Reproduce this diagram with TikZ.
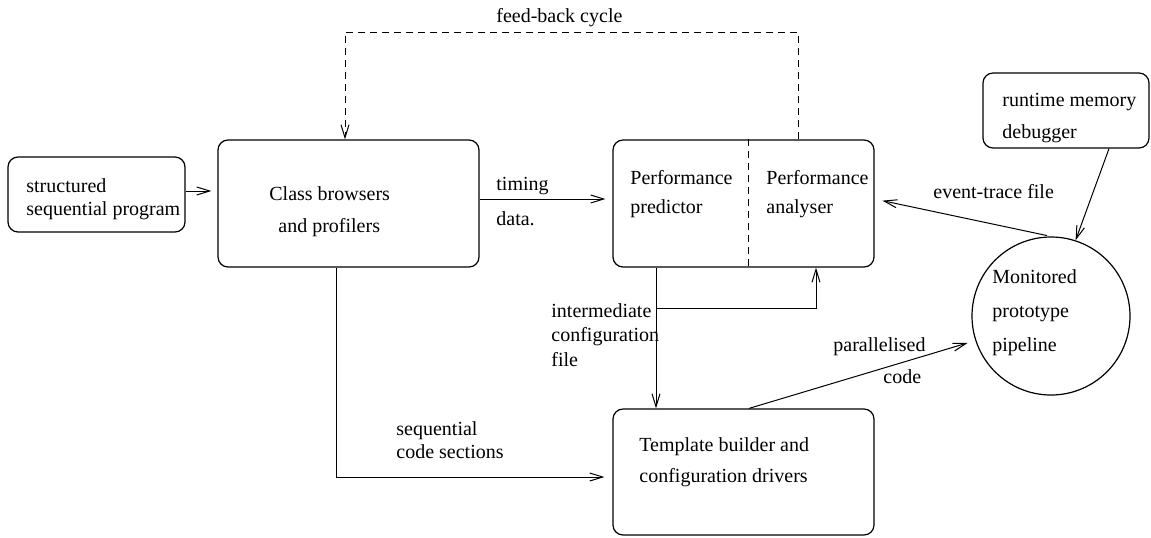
\documentclass[tikz,border=0pt]{standalone}
\usepackage{fontspec}
\setmainfont{Liberation Serif}
\usetikzlibrary{arrows.meta,calc}
\begin{document}
\begin{tikzpicture}[x=0.5pt,y=-0.5pt,
  every node/.style={font=\fontsize{10}{12}\selectfont},
  box/.style={draw, rounded corners=5pt, line width=0.6pt, inner sep=0pt},
  lbl/.style={anchor=base west, inner sep=0pt},
  conn/.style={line width=0.5pt, -{Straight Barb[length=6.5pt,width=4pt]}},
  link/.style={line width=0.5pt},
  fb/.style={line width=0.5pt, dash pattern=on 3.5pt off 2.5pt}]
\useasboundingbox (0,0) rectangle (1151,537);

% boxes
\node[box, minimum width=88.5pt, minimum height=37.5pt] (str) at (96.5,194.5) {};
\node[box, minimum width=130.5pt, minimum height=63.5pt] (cls) at (348.5,203.5) {};
\node[box, minimum width=130.5pt, minimum height=63.5pt] (perf) at (743.5,203.5) {};
\node[box, minimum width=130.5pt, minimum height=63pt] (tmpl) at (743.5,472) {};
\node[box, minimum width=83pt, minimum height=37.5pt] (rt) at (1066,110.5) {};
\node[draw, circle, minimum size=79pt, inner sep=0pt, line width=0.6pt] (mon) at (1051,316) {};

% box texts
\node[lbl] (t1) at (26,192) {structured};
\node[lbl] (t2) at (26,215) {sequential program};
\node[lbl] (t3) at (269,200) {Class browsers};
\node[lbl] (t4) at (278,232) {and profilers};
\node[lbl] (t5) at (630,184) {Performance};
\node[lbl] (t6) at (630,213) {predictor};
\node[lbl] (t7) at (766,184) {Performance};
\node[lbl] (t8) at (766,213) {analyser};
\node[lbl] (t9) at (639,451) {Template builder and};
\node[lbl] (t10) at (639,482) {configuration drivers};
\node[lbl] (t11) at (1002,106) {runtime memory};
\node[lbl] (t12) at (1002,138) {debugger};
\node[lbl] (t13) at (992,283) {Monitored};
\node[lbl] (t14) at (992,317) {prototype};
\node[lbl] (t15) at (992,351) {pipeline};

% connector labels
\node[lbl] (l1) at (496,22) {feed-back cycle};
\node[lbl] (l2) at (496,190) {timing};
\node[lbl] (l3) at (496,225) {data.};
\node[lbl] (l4) at (933,198) {event-trace file};
\node[lbl] (l5) at (551,317) {intermediate};
\node[lbl] (l6) at (551,341) {configuration};
\node[lbl] (l7) at (551,366) {file};
\node[lbl] (l8) at (396,435) {sequential};
\node[lbl] (l9) at (396,458) {code sections};
\node[lbl] (l10) at (833,351) {parallelised};
\node[lbl] (l11) at (883,383) {code};

% separator inside the performance box
\draw[fb] ([xshift=2.25pt]perf.north) -- ([xshift=2.25pt]perf.south);

% connectors
\draw[conn, shorten >=3pt] ([yshift=1.75pt]str.east) -- ([yshift=1.75pt]str.east -| cls.west);
\draw[conn, shorten >=3.5pt] ([yshift=2.25pt]cls.east) -- ([yshift=2.25pt]perf.west);
\coordinate (fbtop) at (500,32);
\draw[fb, -{Straight Barb[length=6.5pt,width=4pt]}] ([xshift=27.25pt]perf.north) |- (fbtop) -| ([xshift=-1.75pt]cls.north);
\draw[conn] ([xshift=-43.75pt]perf.south) -- ([xshift=-43.75pt]tmpl.north);
\coordinate (br) at (656,308);
\draw[conn] (br) -| ([xshift=36.25pt]perf.south);
\draw[conn, shorten >=4pt] ([xshift=-6.25pt]cls.south) |- ([yshift=-2.5pt]tmpl.west);
\draw[conn, shorten >=4pt] ([xshift=2.75pt]tmpl.north) -- (mon.198);
\draw[conn, shorten <=2pt, shorten >=4pt] (mon.north) -- ([yshift=2.25pt]perf.east);
\draw[conn] ([xshift=21.5pt]rt.south) -- (mon.72);
\end{tikzpicture}
\end{document}
